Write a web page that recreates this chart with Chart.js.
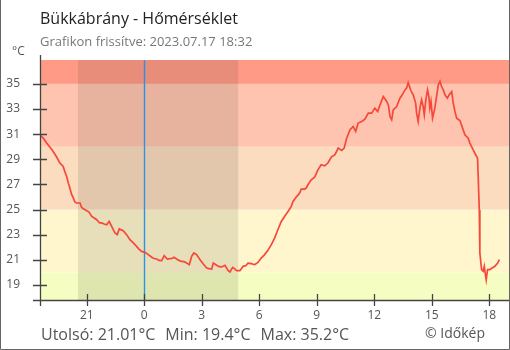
<!DOCTYPE html>
<html>
<head>
<meta charset="utf-8">
<script src="https://cdn.jsdelivr.net/npm/chart.js@4.4.1/dist/chart.umd.min.js"></script>
<style>
  html, body { margin: 0; padding: 0; background: #fff; }
  #wrap { width: 510px; height: 350px; position: relative; }
</style>
</head>
<body>
<div id="wrap"><canvas id="chart" width="510" height="350"></canvas></div>
<script>
// Station and update stamp
const stationTitle = 'Bükkábrány - Hőmérséklet';
const updatedText = 'Grafikon frissítve: 2023.07.17 18:32';
const unitLabel = '°C';
const copyrightText = '© Időkép';

// Time of each reading, in hours relative to midnight (negative = previous evening)
const hours = [
  -5.47, -5.28, -5.09, -4.92, -4.75, -4.58, -4.40, -4.23, -4.14, -4.05,
  -3.96, -3.88, -3.79, -3.70, -3.62, -3.53, -3.35, -3.28, -3.18, -3.00,
  -2.88, -2.74, -2.59, -2.48, -2.33, -2.22, -2.10, -1.96, -1.83, -1.70,
  -1.53, -1.41, -1.30, -1.22, -1.10, -0.92, -0.75, -0.57, -0.40, -0.28,
  -0.14, 0.04, 0.21, 0.39, 0.51, 0.65, 0.77, 0.91, 1.04, 1.20,
  1.34, 1.45, 1.55, 1.69, 1.81, 1.95, 2.07, 2.21, 2.35, 2.47,
  2.59, 2.73, 2.91, 3.08, 3.26, 3.38, 3.52, 3.60, 3.78, 3.90,
  4.04, 4.21, 4.38, 4.47, 4.61, 4.71, 4.82, 4.99, 5.16, 5.31,
  5.41, 5.58, 5.76, 5.93, 6.10, 6.28, 6.45, 6.63, 6.80, 6.97,
  7.15, 7.32, 7.50, 7.67, 7.76, 7.93, 8.11, 8.19, 8.37, 8.45,
  8.54, 8.71, 8.89, 9.06, 9.23, 9.41, 9.58, 9.77, 9.95, 10.12,
  10.30, 10.43, 10.56, 10.73, 10.90, 11.03, 11.16, 11.34, 11.51, 11.69,
  11.86, 12.03, 12.18, 12.30, 12.47, 12.65, 12.74, 12.82, 12.91, 12.99,
  13.17, 13.34, 13.46, 13.60, 13.69, 13.77, 13.91, 14.03, 14.16, 14.21,
  14.29, 14.38, 14.47, 14.55, 14.61, 14.69, 14.78, 14.85, 14.90, 14.96,
  15.04, 15.16, 15.25, 15.34, 15.43, 15.51, 15.60, 15.69, 15.81, 15.91,
  16.04, 16.12, 16.21, 16.30, 16.47, 16.64, 16.73, 16.90, 16.99, 17.16,
  17.29, 17.39, 17.42, 17.48, 17.51, 17.60, 17.68, 17.74, 17.81, 17.84,
  17.91, 18.03, 18.15, 18.29, 18.44, 18.53
];

// Air temperature (°C) at each reading
const temps = [
  30.95, 30.70, 30.29, 29.95, 29.62, 29.20, 28.70, 28.43, 28.00, 27.63,
  27.10, 26.70, 26.20, 25.91, 25.60, 25.52, 25.52, 25.20, 25.06, 24.90,
  24.80, 24.45, 24.30, 24.19, 23.93, 23.93, 23.85, 23.79, 24.06, 23.66,
  23.13, 23.00, 23.47, 23.40, 23.31, 23.00, 22.60, 22.34, 22.07, 21.85,
  21.67, 21.59, 21.41, 21.20, 21.10, 21.06, 20.95, 20.93, 21.33, 21.06,
  21.09, 21.10, 21.20, 21.06, 20.95, 20.87, 20.85, 20.74, 20.61, 21.27,
  21.54, 21.41, 21.01, 20.67, 20.35, 20.30, 20.27, 20.74, 20.56, 20.45,
  20.43, 20.56, 20.13, 20.03, 20.40, 20.30, 20.13, 20.13, 20.48, 20.55,
  20.74, 20.69, 20.61, 20.79, 21.14, 21.41, 21.75, 22.20, 22.73, 23.39,
  24.05, 24.45, 24.85, 25.25, 25.64, 25.99, 26.31, 26.63, 26.63, 26.71,
  26.97, 27.37, 27.58, 28.16, 28.56, 28.48, 28.70, 29.20, 29.36, 29.89,
  29.70, 29.89, 30.68, 31.34, 31.61, 31.21, 31.88, 32.00, 32.19, 32.67,
  32.67, 33.07, 32.80, 33.33, 33.99, 33.60, 33.30, 32.40, 32.14, 32.93,
  33.20, 33.86, 34.13, 34.52, 34.66, 35.10, 34.47, 34.13, 33.47, 32.67,
  32.00, 33.07, 33.73, 33.20, 32.54, 33.73, 34.52, 33.99, 33.07, 33.60,
  32.27, 33.07, 33.99, 34.92, 35.20, 34.79, 34.52, 34.13, 33.86, 34.13,
  34.39, 33.47, 32.80, 32.27, 32.08, 31.34, 30.95, 30.68, 30.29, 29.75,
  29.36, 29.09, 27.77, 24.98, 21.54, 20.21, 20.08, 20.48, 19.69, 19.40,
  20.21, 20.21, 20.35, 20.48, 20.74, 21.01
];

// Summary figures printed under the chart
const lastValue = 21.01;
const minValue = 19.4;
const maxValue = 35.2;

// Axis ticks
const yTickValues = [19, 21, 23, 25, 27, 29, 31, 33, 35];
const xTickValues = [-3, 0, 3, 6, 9, 12, 15, 18];

// Temperature zone limits (°C), coolest to warmest
const zoneLimits = [20, 25, 30, 35];

// Night period (sunset → sunrise), hours relative to midnight
const sunset = -3.46;
const sunrise = 4.90;

const FONT = "'Open Sans', 'Noto Sans', sans-serif";
const zoneColors = ['#f6fdc2', '#fff6ce', '#fbdcbf', '#ffc4b0', '#ff9a86'];

const backgroundPlugin = {
  id: 'zones',
  beforeDatasetsDraw(chart) {
    const { ctx, chartArea: a, scales: { x, y } } = chart;
    ctx.save();
    // temperature zones
    const edges = [y.min, ...zoneLimits, y.max];
    for (let i = 0; i < edges.length - 1; i++) {
      const top = y.getPixelForValue(edges[i + 1]);
      const bot = y.getPixelForValue(edges[i]);
      ctx.fillStyle = zoneColors[i];
      ctx.fillRect(a.left, top, a.right - a.left, bot - top);
    }
    // night shading
    const nx0 = x.getPixelForValue(sunset);
    const nx1 = x.getPixelForValue(sunrise);
    ctx.fillStyle = 'rgba(40,40,20,0.11)';
    ctx.fillRect(nx0, a.top, nx1 - nx0, a.bottom - a.top);
    // midnight marker
    const mx = Math.round(x.getPixelForValue(0)) + 0.5;
    ctx.strokeStyle = '#2a93e8';
    ctx.lineWidth = 1.4;
    ctx.beginPath();
    ctx.moveTo(mx, a.top);
    ctx.lineTo(mx, a.bottom);
    ctx.stroke();
    ctx.restore();
  },
  afterDraw(chart) {
    const { ctx, chartArea: a, scales: { x, y } } = chart;
    ctx.save();
    ctx.strokeStyle = '#444';
    ctx.lineWidth = 1.3;
    // axis lines
    ctx.beginPath();
    ctx.moveTo(a.left + 0.5, a.top - 5);
    ctx.lineTo(a.left + 0.5, a.bottom + 6);
    ctx.moveTo(a.left - 7, a.bottom + 0.5);
    ctx.lineTo(a.right, a.bottom + 0.5);
    // tick marks crossing the axes
    yTickValues.forEach(v => {
      const py = Math.round(y.getPixelForValue(v)) + 0.5;
      ctx.moveTo(a.left - 7, py);
      ctx.lineTo(a.left + 7, py);
    });
    xTickValues.forEach(v => {
      const px = Math.round(x.getPixelForValue(v)) + 0.5;
      ctx.moveTo(px, a.bottom - 6);
      ctx.lineTo(px, a.bottom + 6);
    });
    ctx.stroke();

    // frame
    ctx.strokeStyle = '#666';
    ctx.lineWidth = 1;
    ctx.beginPath();
    ctx.moveTo(0.5, 0);
    ctx.lineTo(0.5, 349.5);
    ctx.lineTo(509.5, 349.5);
    ctx.lineTo(509.5, 0);
    ctx.stroke();

    // texts
    ctx.textBaseline = 'alphabetic';
    ctx.textAlign = 'left';
    ctx.fillStyle = '#222';
    ctx.font = `16px ${FONT}`;
    ctx.fillText(stationTitle, 40, 24);
    ctx.fillStyle = '#777';
    ctx.font = `13px ${FONT}`;
    ctx.fillText(updatedText, 40, 46);
    ctx.fillStyle = '#555';
    ctx.font = `12px ${FONT}`;
    ctx.fillText(unitLabel, 12, 55);

    ctx.fillStyle = '#555';
    ctx.font = `16px ${FONT}`;
    const parts = [
      `Utolsó: ${lastValue.toFixed(2)}°C`,
      `Min: ${minValue.toFixed(1)}°C`,
      `Max: ${maxValue.toFixed(1)}°C`
    ];
    let tx = 41;
    parts.forEach(p => {
      ctx.fillText(p, tx, 340);
      tx += ctx.measureText(p).width + 10;
    });
    ctx.font = `14px ${FONT}`;
    ctx.fillText(copyrightText, 425, 338);
    ctx.restore();
  }
};

new Chart(document.getElementById('chart'), {
  type: 'line',
  data: {
    datasets: [{
      data: hours.map((h, i) => ({ x: h, y: temps[i] })),
      borderColor: '#f7473a',
      borderWidth: 1.7,
      pointRadius: 0,
      tension: 0,
      fill: false
    }]
  },
  options: {
    responsive: false,
    animation: false,
    devicePixelRatio: 1,
    layout: { padding: { top: 60, right: 1, left: 0, bottom: 0 } },
    plugins: { legend: { display: false }, tooltip: { enabled: false } },
    scales: {
      x: {
        type: 'linear',
        min: -5.44,
        max: 19.03,
        afterBuildTicks: s => { s.ticks = xTickValues.map(v => ({ value: v })); },
        afterFit: s => { s.height = 50; },
        grid: { display: false, drawTicks: false },
        border: { display: false },
        ticks: {
          autoSkip: false, maxRotation: 0, padding: 8,
          color: '#555', font: { family: FONT, size: 12 },
          callback: v => ((v % 24) + 24) % 24
        }
      },
      y: {
        type: 'linear',
        min: 17.8,
        max: 36.9,
        afterBuildTicks: s => { s.ticks = yTickValues.map(v => ({ value: v })); },
        afterFit: s => { s.width = 40; },
        grid: { display: false, drawTicks: false },
        border: { display: false },
        ticks: {
          autoSkip: false, padding: 20,
          color: '#555', font: { family: FONT, size: 12 }
        }
      }
    }
  },
  plugins: [backgroundPlugin]
});
</script>
</body>
</html>
